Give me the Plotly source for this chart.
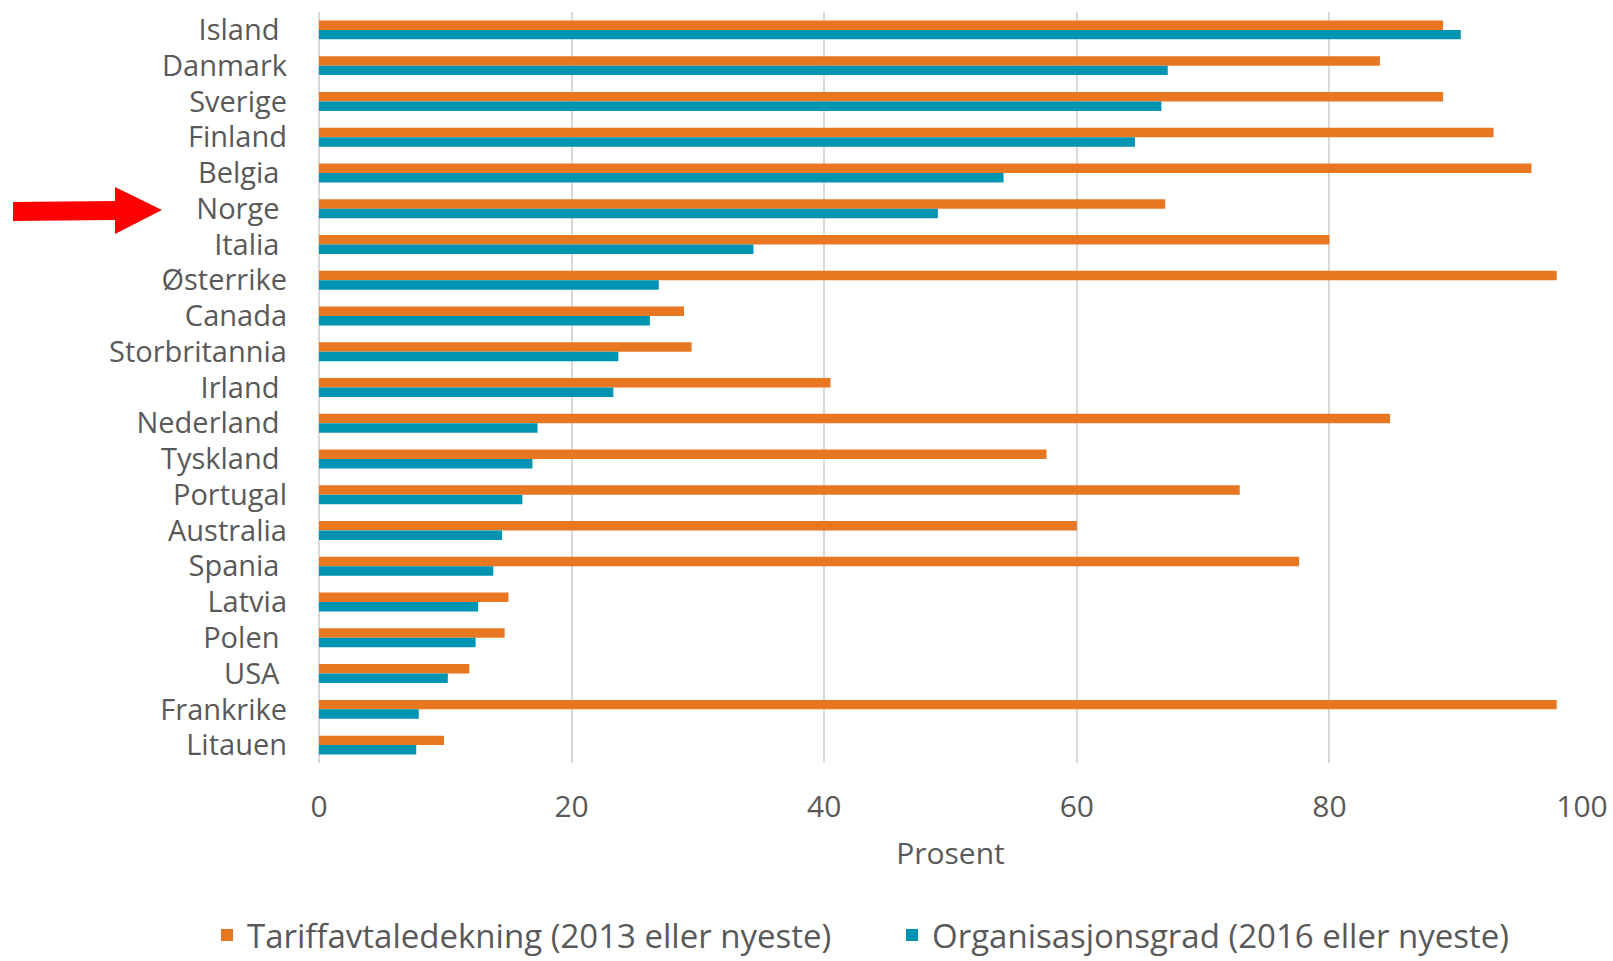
import plotly.graph_objects as go

# Countries, top to bottom
countries = ["Island", "Danmark", "Sverige", "Finland", "Belgia", "Norge", "Italia",
             "Østerrike", "Canada", "Storbritannia", "Irland", "Nederland", "Tyskland",
             "Portugal", "Australia", "Spania", "Latvia", "Polen", "USA", "Frankrike",
             "Litauen"]

# Collective agreement coverage, percent (2013 or latest)
tariff = [89.0, 84.0, 89.0, 93.0, 96.0, 67.0, 80.0, 98.0, 28.9, 29.5, 40.5,
          84.8, 57.6, 72.9, 60.0, 77.6, 15.0, 14.7, 11.9, 98.0, 9.9]

# Union density, percent (2016 or latest)
organisasjon = [90.4, 67.2, 66.7, 64.6, 54.2, 49.0, 34.4, 26.9, 26.2, 23.7, 23.3,
                17.3, 16.9, 16.1, 14.5, 13.8, 12.6, 12.4, 10.2, 7.9, 7.7]

series_names = ["Tariffavtaledekning (2013 eller nyeste)",
                "Organisasjonsgrad (2016 eller nyeste)"]

x_ticks = [0, 20, 40, 60, 80, 100]

ORANGE = "#E87722"
TEAL = "#0094B3"
TEXT = "#595959"
GRID = "#D9D9D9"
FONT = "Open Sans"

# Some category labels carry a trailing space
padded = {"Island", "Belgia", "Norge", "Italia", "Irland", "Nederland", "Tyskland",
          "Spania", "Polen", "USA"}
labels = [c + ("\u00a0" if c in padded else "") for c in countries]

fig = go.Figure()
fig.add_trace(go.Bar(y=labels, x=tariff, orientation="h", name=series_names[0],
                     marker=dict(color=ORANGE, line=dict(width=0))))
fig.add_trace(go.Bar(y=labels, x=organisasjon, orientation="h", name=series_names[1],
                     marker=dict(color=TEAL, line=dict(width=0))))

W, H = 1613, 961
L, R, T, B = 319, 31, 12, 198
pw, ph = W - L - R, H - T - B


def px(x, y):
    """Pixel position -> paper coordinates."""
    return (x - L) / pw, (H - B - y) / ph


# Red arrow pointing at Norge
pts = [(13, 202), (115, 201), (115, 187), (162, 210), (115, 234), (115, 220), (13, 221)]
path = "M " + " L ".join(f"{px(a, b)[0]:.5f},{px(a, b)[1]:.5f}" for a, b in pts) + " Z"

lx, ly = px(207, 935)

fig.update_layout(
    width=W, height=H,
    margin=dict(l=L, r=R, t=T, b=B, autoexpand=False),
    paper_bgcolor="white", plot_bgcolor="white",
    barmode="group", bargap=0.47, bargroupgap=0,
    font=dict(family=FONT, size=29, color=TEXT),
    showlegend=True,
    legend=dict(orientation="h", x=lx, xanchor="left", y=ly, yanchor="middle",
                font=dict(family=FONT, size=33, color=TEXT), traceorder="normal",
                entrywidth=640, itemclick=False, borderwidth=0),
    shapes=[dict(type="path", path=path, xref="paper", yref="paper",
                 fillcolor="#FF0000", line=dict(width=0), layer="above")],
    xaxis=dict(range=[0, 100], tickvals=x_ticks, showgrid=True, gridcolor=GRID, gridwidth=2,
               zeroline=True, zerolinecolor=GRID, zerolinewidth=2, showline=False,
               ticks="", ticklabelstandoff=23, automargin=False,
               tickfont=dict(family=FONT, size=30, color=TEXT),
               title=dict(text="Prosent", standoff=17,
                          font=dict(family=FONT, size=30, color=TEXT))),
    yaxis=dict(autorange="reversed", showgrid=False, zeroline=False, showline=False,
               ticks="", ticklabelstandoff=31, automargin=False,
               tickfont=dict(family=FONT, size=29, color=TEXT)),
)

fig.write_html("out.html")
